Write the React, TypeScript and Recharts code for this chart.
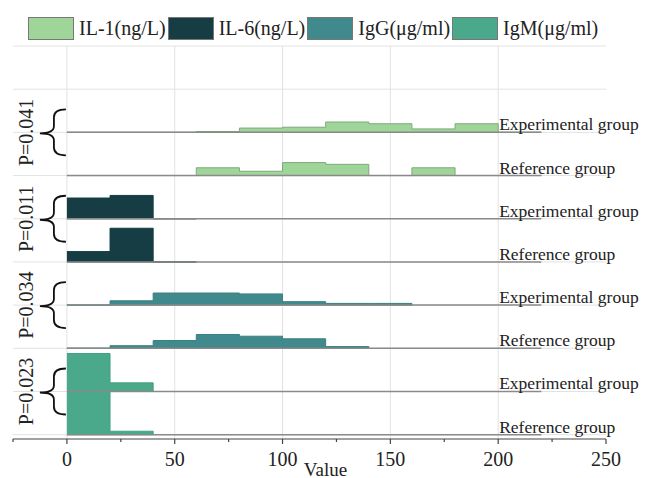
import { ComposedChart, Area, XAxis, YAxis, CartesianGrid, ReferenceLine, ReferenceDot } from 'recharts';

const SERIF = '"Liberation Serif", "Times New Roman", serif';

// histogram bins are 20 wide, starting at 0
const BIN = 20;
// counts per row height
const ROW_COUNTS = 50;

const seriesNames = ['IL-1(ng/L)', 'IL-6(ng/L)', 'IgG(μg/ml)', 'IgM(μg/ml)'];
const seriesColors = ['#9fd599', '#163d43', '#408a8e', '#4aa98a'];
const seriesStrokes = ['#7fa87b', '#163d43', '#3a7f83', '#43a083'];
const pValues = ['P=0.041', 'P=0.011', 'P=0.034', 'P=0.023'];
const groupLabels = ['Experimental group', 'Reference group'];

const il1Exp = [0, 0, 0, 1, 5, 6, 12, 10, 4, 10, 0];
const il1Ref = [0, 0, 0, 9, 5, 15, 13, 0, 9, 0, 0];
const il6Exp = [24, 27, 0];
const il6Ref = [12, 39, 0];
const iggExp = [0, 5, 14, 14, 13, 4, 2, 2];
const iggRef = [0, 3, 9, 16, 14, 11, 2];
const igmExp = [44, 10];
const igmRef = [50, 4];

const expSeries = [il1Exp, il6Exp, iggExp, igmExp];
const refSeries = [il1Ref, il6Ref, iggRef, igmRef];

const xTicks = [-25, 0, 25, 50, 75, 100, 125, 150, 175, 200, 225, 250];
const rowLines = [0, 1, 2, 3, 4, 5, 6, 7, 8, 9];

const buildRow = (values: number[], row: number) => {
  const pts = values.map((h, i) => ({ x: i * BIN, v: [row, row + h / ROW_COUNTS] }));
  pts.push({ x: values.length * BIN, v: [row, row] });
  return pts;
};

const XTick = (props: any) => {
  const { x, y, payload } = props;
  const major = payload.value % 50 === 0;
  return (
    <g>
      <line x1={x} x2={x} y1={y - 8} y2={y - 8 + (major ? 5 : 3)} stroke="#444" strokeWidth={1.2} />
      {major && (
        <text x={x} y={y + 19} textAnchor="middle" fontSize={20} fontFamily={SERIF} fill="#222">
          {payload.value}
        </text>
      )}
    </g>
  );
};

const Brace = (props: any) => {
  const { cx, cy, text } = props;
  const R = cx - 1;
  const L = cx - 27;
  const M = cx - 13;
  const T = cy - 23;
  const B = cy + 23;
  const c = cy + 1;
  const d = `M ${R} ${T} Q ${M} ${T} ${M} ${T + 8} L ${M} ${c - 7} Q ${M} ${c} ${L} ${c} Q ${M} ${c} ${M} ${c + 7} L ${M} ${B - 8} Q ${M} ${B} ${R} ${B}`;
  const tx = cx - 34;
  return (
    <g>
      <path d={d} fill="none" stroke="#111" strokeWidth={1.8} />
      <text x={tx} y={cy} transform={`rotate(-90 ${tx} ${cy})`} textAnchor="middle" fontSize={20} fontFamily={SERIF} fill="#222">
        {text}
      </text>
    </g>
  );
};

const App = () => {
  return (
    <div style={{ position: 'relative', width: 644, height: 470, fontFamily: SERIF }}>
      <div style={{ position: 'absolute', left: 20, top: 9, display: 'flex', alignItems: 'center', gap: 2, zIndex: 2 }}>
        {seriesNames.map((name, i) => (
          <div key={name} style={{ display: 'flex', alignItems: 'center', gap: 5 }}>
            <div style={{ width: 44, height: 21, background: seriesColors[i], border: '1px solid #777' }} />
            <span style={{ fontSize: 20, color: '#222', whiteSpace: 'nowrap' }}>{name}</span>
          </div>
        ))}
      </div>
      <ComposedChart width={644} height={470} margin={{ top: 38, right: 46, bottom: 9, left: 5 }}>
        <CartesianGrid stroke="#e2e2e2" horizontalValues={rowLines} verticalValues={[0, 50, 100, 150, 200]} />
        <XAxis
          type="number"
          dataKey="x"
          domain={[-25, 250]}
          ticks={xTicks}
          allowDataOverflow
          height={30}
          tickLine={false}
          axisLine={{ stroke: '#444', strokeWidth: 1.2 }}
          tick={<XTick />}
          interval={0}
          label={{
            content: (p: any) => (
              <text x={p.viewBox.x + p.viewBox.width / 2 + 16} y={p.viewBox.y + 37} textAnchor="middle" fontSize={19} fontFamily={SERIF} fill="#222">
                Value
              </text>
            ),
          }}
        />
        <YAxis type="number" domain={[-0.1, 9]} hide allowDataOverflow />
        {seriesNames.map((_, g) => {
          const expRow = 7 - 2 * g;
          return [expRow, expRow - 1].map((row) => (
            <ReferenceLine
              key={`base-${row}`}
              segment={[{ x: 0, y: row }, { x: 220, y: row }]}
              stroke="#8a8a8a"
              strokeWidth={1.5}
            />
          ));
        })}
        {seriesNames.map((name, g) => {
          const expRow = 7 - 2 * g;
          return [
            <Area
              key={`${name}-ref`}
              data={buildRow(refSeries[g], expRow - 1)}
              dataKey="v"
              type="stepAfter"
              fill={seriesColors[g]}
              fillOpacity={1}
              stroke={seriesStrokes[g]}
              strokeWidth={1}
              dot={false}
              activeDot={false}
              isAnimationActive={false}
            />,
            <Area
              key={`${name}-exp`}
              data={buildRow(expSeries[g], expRow)}
              dataKey="v"
              type="stepAfter"
              fill={seriesColors[g]}
              fillOpacity={1}
              stroke={seriesStrokes[g]}
              strokeWidth={1}
              dot={false}
              activeDot={false}
              isAnimationActive={false}
            />,
          ];
        })}
        {seriesNames.map((name, g) => (
          <ReferenceDot
            key={`brace-${name}`}
            x={0}
            y={7 - 2 * g}
            r={0}
            shape={(p: any) => <Brace cx={p.cx} cy={p.cy} text={pValues[g]} />}
          />
        ))}
        {seriesNames.map((name, g) =>
          groupLabels.map((lab, k) => (
            <ReferenceDot
              key={`lab-${name}-${k}`}
              x={200}
              y={7 - 2 * g - k}
              r={0}
              shape={(p: any) => (
                <text x={p.cx + 1} y={p.cy - 2} fontSize={17.5} fontFamily={SERIF} fill="#222">
                  {lab}
                </text>
              )}
            />
          ))
        )}
      </ComposedChart>
    </div>
  );
};

export default App;
